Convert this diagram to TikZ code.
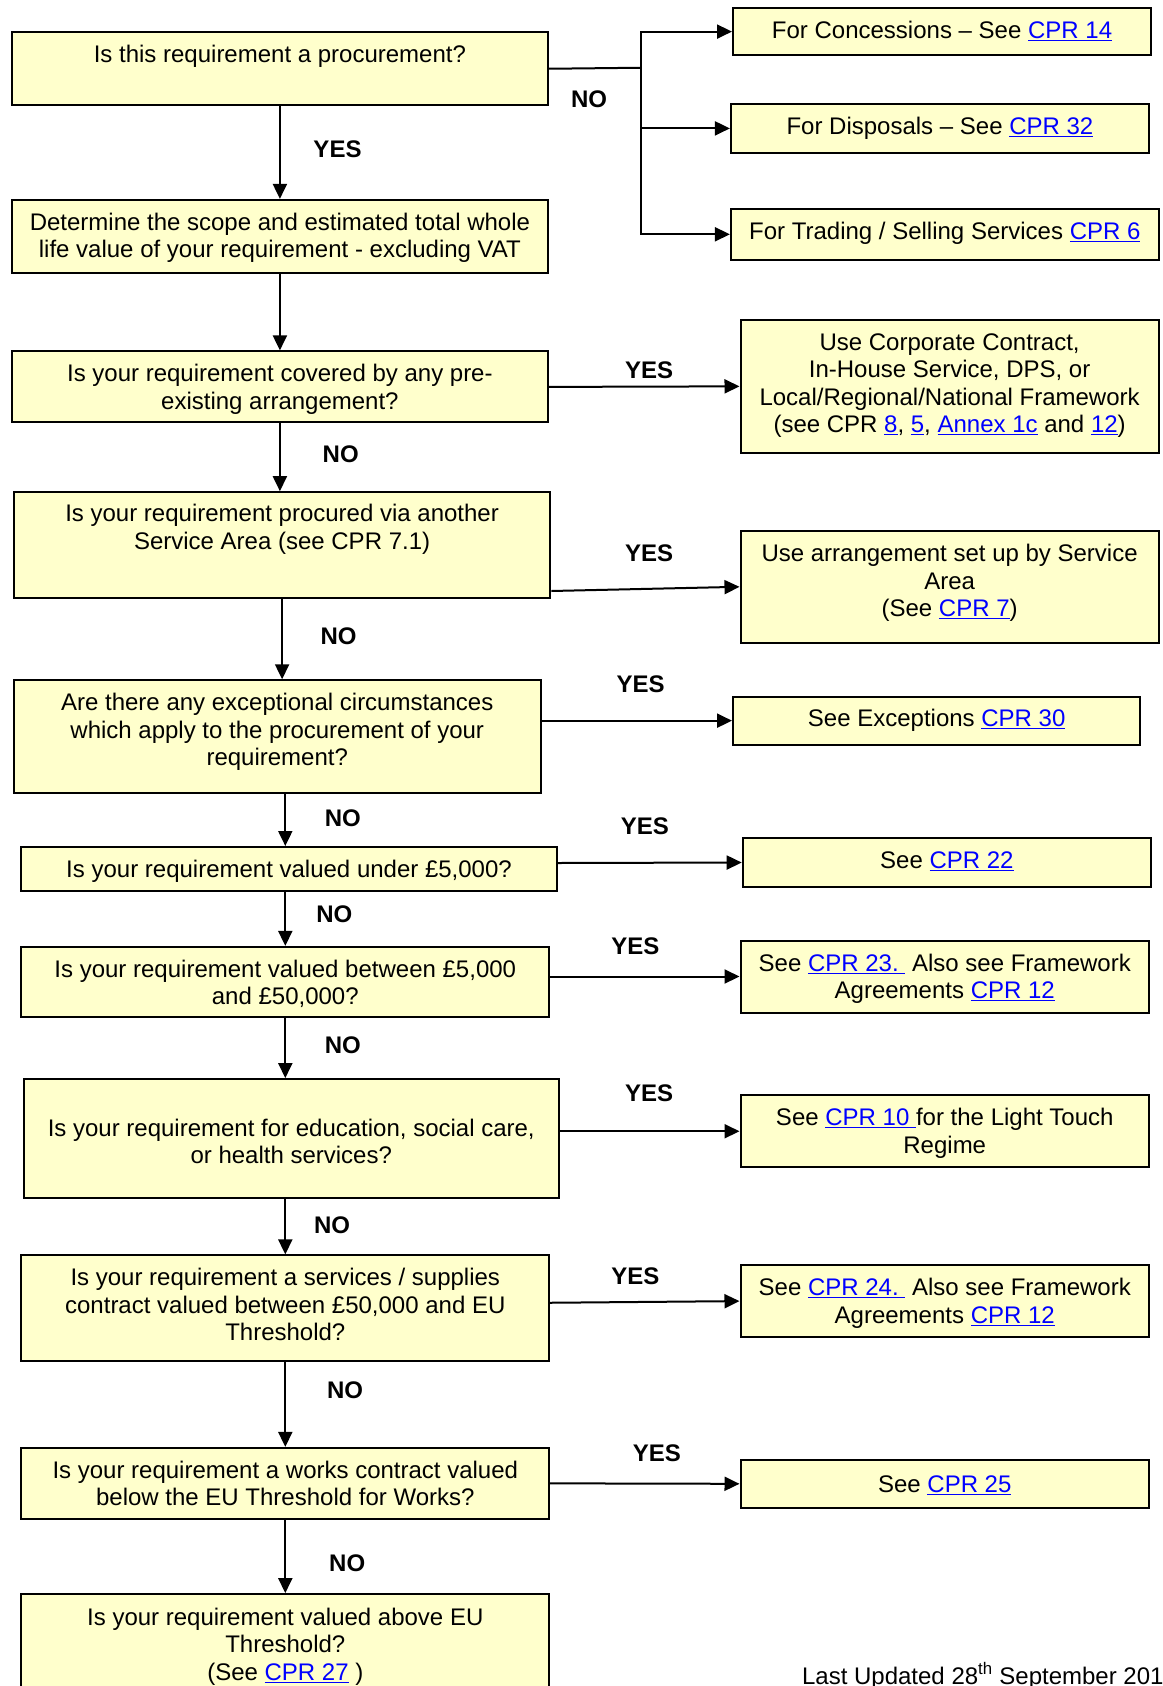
\documentclass[tikz,border=0pt]{standalone}
\usepackage{fontspec}
\setmainfont{Liberation Sans}
\usetikzlibrary{arrows.meta}
\definecolor{boxfill}{HTML}{FFFFCC}
\definecolor{linkblue}{HTML}{0000FF}
\newcommand\lnk[1]{{\color{linkblue}\underline{#1}}}
\tikzset{
  fbox/.style={draw=black, line width=2pt, fill=boxfill, inner sep=0pt, rectangle},
  ftext/.style={align=center, inner sep=0pt, font=\fontsize{24}{27.5}\selectfont},
  lab/.style={font=\fontsize{24}{27.5}\selectfont\bfseries, inner sep=0pt},
  conn/.style={line width=2pt},
  arr/.style={conn, -{Triangle[length=15pt,width=14pt]}},
}
% name, x, y (top-left), width, height, first-baseline offset, text
% the strut (height 19.25pt) fixes the top of the text block above the first baseline
\newcommand\fbx[7]{%
  \node[fbox, minimum width=#4pt, minimum height=#5pt, anchor=north west] (#1) at (#2,#3) {};
  \node[ftext, anchor=north] (#1t) at ([yshift=-#6pt+19.25pt]#1.north) {\strut #7};}
\begin{document}
\begin{tikzpicture}[x=1pt, y=-1pt]
\path[use as bounding box, clip] (0,0) rectangle (1162,1686);
\fill[white] (0,0) rectangle (1162,1686);

% left column
\fbx{b1}{10.7}{31.2}{536.4}{73.1}{31.5}{Is this requirement a procurement?}
\fbx{b2}{10.7}{198.9}{536.4}{73.1}{31}{Determine the scope and estimated total whole\\life value of your requirement - excluding VAT}
\fbx{b3}{10.7}{350.4}{536.4}{71.0}{31}{Is your requirement covered by any pre-\\existing arrangement?}
\fbx{b4}{12.9}{491.2}{536.4}{105.4}{30.5}{Is your requirement procured via another\\Service Area (see CPR 7.1)}
\fbx{b5}{12.9}{679.3}{526.7}{112.9}{31}{Are there any exceptional circumstances\\which apply to the procurement of your\\requirement?}
\fbx{b6}{20.4}{846.0}{535.3}{44.0}{31}{Is your requirement valued under £5,000?}
\fbx{b7}{20.4}{945.9}{527.8}{69.9}{31}{Is your requirement valued between £5,000\\and £50,000?}
\fbx{b8}{22.6}{1078.1}{535.3}{119.3}{58}{Is your requirement for education, social care,\\or health services?}
\fbx{b9}{20.4}{1254.4}{527.8}{105.3}{31}{Is your requirement a services / supplies\\contract valued between £50,000 and EU\\Threshold?}
\fbx{b10}{20.4}{1446.9}{527.8}{70.9}{31}{Is your requirement a works contract valued\\below the EU Threshold for Works?}
\fbx{b11}{20.4}{1593.1}{527.8}{130}{32}{Is your requirement valued above EU\\Threshold?\\(See \lnk{CPR 27} )}

% right column
\fbx{r1}{732.0}{7.5}{418.1}{46.2}{31}{For Concessions -- See \lnk{CPR 14}}
\fbx{r2}{729.9}{103.2}{418.1}{48.4}{31.5}{For Disposals -- See \lnk{CPR 32}}
\fbx{r3}{729.9}{207.5}{427.8}{51.6}{31.5}{For Trading / Selling Services \lnk{CPR 6}}
\fbx{r4}{739.5}{319.2}{418.2}{132.3}{31}{Use Corporate Contract,\\In-House Service, DPS, or\\Local/Regional/National Framework\\(see CPR \lnk{8}, \lnk{5}, \lnk{Annex 1c} and \lnk{12})}
\fbx{r5}{739.5}{529.9}{418.2}{111.8}{31.5}{Use arrangement set up by Service\\Area\\(See \lnk{CPR 7})}
\fbx{r6}{732.0}{695.5}{407.4}{48.3}{31}{See Exceptions \lnk{CPR 30}}
\fbx{r7}{741.7}{837.3}{408.4}{48.4}{31}{See \lnk{CPR 22}}
\fbx{r8}{739.5}{939.5}{408.5}{72.0}{31.5}{See \lnk{CPR 23.\ } Also see Framework\\Agreements \lnk{CPR 12}}
\fbx{r9}{739.5}{1094.2}{408.5}{72.1}{31.5}{See \lnk{CPR 10\ }for the Light Touch\\Regime}
\fbx{r10}{739.5}{1264.1}{408.5}{72.0}{31.5}{See \lnk{CPR 24.\ } Also see Framework\\Agreements \lnk{CPR 12}}
\fbx{r11}{739.5}{1458.6}{408.5}{48.4}{34}{See \lnk{CPR 25}}

% NO branch from first question
\coordinate (jn) at (640.6,67.75);
\draw[conn] (b1.east) -- (jn);
\draw[arr] (jn) |- (r1.west);
\draw[arr] (jn) |- (r2.west);
\draw[arr] (jn) |- (r3.west);

% vertical flow
\draw[arr] (b1.south) -- (b2.north);
\draw[arr] (b2.south) -- (b3.north);
\draw[arr] (b3.south) -- (b3.south |- b4.north);
\draw[arr] (b4.south) -- (b4.south |- b5.north);
\draw[arr] (b5.south -| b7.south) -- (b6.north -| b7.south);
\draw[arr] (b6.south -| b7.south) -- (b7.north);
\draw[arr] (b7.south) -- (b7.south |- b8.north);
\draw[arr] (b8.south -| b7.south) -- (b9.north);
\draw[arr] (b9.south) -- (b10.north);
\draw[arr] (b10.south) -- (b11.north);

% YES branches
\draw[arr] (b3.east) -- (r4.west);
\draw[arr] ([yshift=7.6pt]b4.south east) -- (r5.west);
\draw[arr] (b5.east |- r6.west) -- (r6.west);
\draw[arr] ([yshift=6pt]b6.east) -- (r7.west);
\draw[arr] (b7.east |- r8.west) -- (r8.west);
\draw[arr] (b8.east |- r9.west) -- (r9.west);
\draw[arr] ([yshift=5.3pt]b9.east) -- (r10.west);
\draw[arr] (b10.east) -- (r11.west);

% labels
\node[lab] (l0) at (589,98.9) {NO};
\node[lab] (l1) at (337.5,149.4) {YES};
\node[lab] (l2) at (649.2,369.8) {YES};
\node[lab] (l3) at (340.7,454.7) {NO};
\node[lab] (l4) at (649.2,553.6) {YES};
\node[lab] (l5) at (338.6,636.3) {NO};
\node[lab] (l6) at (640.6,684.7) {YES};
\node[lab] (l7) at (342.9,818) {NO};
\node[lab] (l8) at (644.9,826.6) {YES};
\node[lab] (l9) at (334.3,914.7) {NO};
\node[lab] (l10) at (635.3,945.9) {YES};
\node[lab] (l11) at (342.9,1044.8) {NO};
\node[lab] (l12) at (649.2,1093.2) {YES};
\node[lab] (l13) at (332.1,1225.4) {NO};
\node[lab] (l14) at (635.3,1275.9) {YES};
\node[lab] (l15) at (345,1389.8) {NO};
\node[lab] (l16) at (656.8,1453.3) {YES};
\node[lab] (l17) at (347.2,1562.9) {NO};

\node[ftext, anchor=base west] (upd) at (801.9,1684) {Last Updated 28\textsuperscript{th} September 201};
\end{tikzpicture}
\end{document}
